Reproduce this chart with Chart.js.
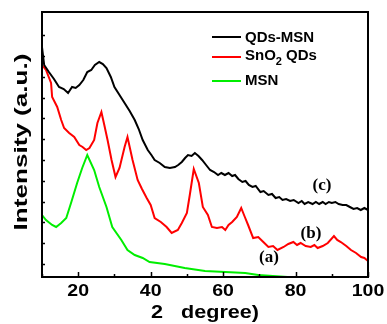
<!DOCTYPE html>
<html>
<head>
<meta charset="utf-8">
<script src="https://cdn.jsdelivr.net/npm/chart.js@4/dist/chart.umd.min.js"></script>
<style>
    html, body { margin: 0; padding: 0; background: #fff; }
</style>
</head>
<body>
<canvas id="xrdChart" width="387" height="324"></canvas>
<script>
// XRD patterns (2 theta in degree, intensity in arbitrary units)
const qdsMsnAngle = [10, 10.6, 11.9, 13.3, 14.7, 16.0, 17.2, 18.3, 19.3, 20.3, 21.4, 22.5, 23.6, 24.6, 25.8, 26.8, 27.8, 29.0, 30.0, 31.4, 32.8, 34.2, 35.6, 36.7, 37.8, 39.2, 40.2, 41.1, 42.5, 43.9, 45.3, 46.7, 47.6, 48.6, 49.5, 50.3, 51.3, 52.2, 53.2, 54.2, 55.3, 56.4, 57.5, 58.6, 59.5, 60.5, 61.5, 62.5, 63.3, 64.2, 65.3, 66.2, 67.1, 68.1, 69.0, 70.3, 71.2, 72.5, 73.5, 74.5, 75.5, 76.4, 77.4, 78.5, 79.5, 80.8, 81.7, 82.5, 83.5, 84.7, 85.6, 86.5, 87.5, 88.3, 89.2, 90.0, 91.0, 91.9, 93.0, 94.0, 95.0, 96.0, 97.0, 98.0, 99.0, 100];
const qdsMsnInt   = [230, 212, 205, 198, 190, 188, 184, 190, 189, 192, 197, 205, 207, 212, 215, 213, 209, 200, 190, 182, 174, 166, 157, 148, 137, 127, 122, 117, 114, 110, 109, 110, 112, 115, 119, 122, 121, 124, 121, 117, 112, 107, 105, 102, 104, 102, 104, 101, 102, 98, 95, 96, 92, 90, 91, 85, 86, 82, 83, 79, 80, 77, 78, 76, 77, 74, 76, 73, 75, 73, 75, 73, 75, 73, 75, 74, 75, 73, 72, 72, 70, 68, 69, 67, 69, 67];

const sno2Angle = [10, 11.1, 12.5, 12.8, 14.2, 15.3, 16.1, 17.5, 18.9, 20.3, 21.2, 22.2, 23.1, 24.4, 25.3, 26.4, 27.2, 28.1, 29.2, 30.3, 31.4, 32.8, 33.6, 35.0, 36.4, 37.6, 38.9, 40.0, 41.1, 42.8, 44.4, 45.8, 47.5, 48.6, 50.0, 50.8, 51.9, 53.3, 54.4, 55.8, 56.9, 58.3, 59.7, 60.6, 61.5, 62.5, 63.8, 65.0, 66.0, 66.9, 68.3, 69.7, 71.1, 72.5, 73.8, 75.0, 76.7, 78.0, 79.4, 80.4, 81.4, 82.8, 84.2, 85.2, 86.1, 87.5, 88.9, 90.6, 91.5, 92.5, 94.0, 95.3, 96.7, 98.1, 99.0, 100];
const sno2Int   = [212, 207, 194, 180, 170, 157, 149, 144, 140, 132, 130, 127, 129, 137, 154, 165, 152, 137, 117, 100, 109, 130, 140, 117, 97, 88, 79, 72, 59, 55, 50, 44, 47, 54, 64, 82, 108, 94, 70, 62, 50, 49, 50, 47, 52, 55, 60, 69, 60, 52, 39, 40, 35, 30, 31, 27, 30, 33, 35, 32, 34, 31, 30, 32, 29, 31, 34, 41, 37, 35, 31, 27, 24, 20, 19, 16];

const msnAngle = [10, 11.1, 12.8, 13.9, 15.3, 16.7, 18.1, 19.7, 21.1, 22.5, 24.4, 25.8, 27.8, 29.4, 31.9, 33.6, 35.6, 37.8, 39.7, 43.9, 49.4, 55.0, 60.6, 66.1, 69.7, 77.8];
const msnInt   = [62, 57, 52, 50, 54, 59, 75, 94, 109, 122, 107, 90, 70, 50, 37, 27, 22, 19, 15, 13, 9, 6, 5, 4, 2, 0];

const xTickValues = [10, 20, 30, 40, 50, 60, 70, 80, 90, 100];
const xTickLabels = ['', '20', '', '40', '', '60', '', '80', '', '100'];
const yTickValues = [13, 33.8, 54.6, 75.4, 96.2, 117, 137.8, 158.6, 179.4, 200.2, 221, 241.8];

const seriesNames = ['QDs-MSN', 'SnO2 QDs', 'MSN'];
const seriesColors = ['#000000', '#ff0000', '#00ee00'];
const curveLabels = ['(a)', '(b)', '(c)'];

const toPoints = (xs, ys) => xs.map((x, i) => ({ x: x, y: ys[i] }));

// inward tick marks, frame, tick labels, titles, legend and curve labels
const decorPlugin = {
    id: 'decor',
    afterDatasetsDraw(chart) {
        const ctx = chart.ctx;
        const area = chart.chartArea;
        const xs = chart.scales.x;
        const ys = chart.scales.y;
        ctx.save();
        ctx.strokeStyle = '#000';
        ctx.lineWidth = 1.5;
        ctx.beginPath();
        xTickValues.forEach(v => {
            const px = Math.round(xs.getPixelForValue(v)) + 0.5;
            const len = v % 20 === 0 ? 5 : 3;
            ctx.moveTo(px, area.bottom);
            ctx.lineTo(px, area.bottom - len);
        });
        yTickValues.forEach(v => {
            const py = Math.round(ys.getPixelForValue(v)) + 0.5;
            ctx.moveTo(area.left, py);
            ctx.lineTo(area.left + 3, py);
        });
        ctx.stroke();

        ctx.lineWidth = 2;
        ctx.strokeRect(area.left, area.top, area.right - area.left, area.bottom - area.top);

        // x tick labels (slightly wide, like the original)
        ctx.fillStyle = '#000';
        ctx.font = 'bold 16px "Liberation Sans", Arial, sans-serif';
        ctx.textAlign = 'center';
        ctx.textBaseline = 'alphabetic';
        xTickValues.forEach((v, i) => {
            if (!xTickLabels[i]) return;
            ctx.save();
            ctx.translate(xs.getPixelForValue(v), 295.5);
            ctx.scale(1.22, 1);
            ctx.fillText(xTickLabels[i], 0, 0);
            ctx.restore();
        });

        // legend
        const rows = [37, 57, 81];
        ctx.textAlign = 'left';
        ctx.font = 'bold 15px "Liberation Sans", Arial, sans-serif';
        rows.forEach((y, i) => {
            ctx.strokeStyle = seriesColors[i];
            ctx.beginPath();
            ctx.moveTo(212, y);
            ctx.lineTo(241, y);
            ctx.stroke();
        });
        ctx.fillText('QDs-MSN', 245, 42);
        ctx.fillText('SnO', 245, 60);
        const w = ctx.measureText('SnO').width;
        ctx.font = 'bold 11px "Liberation Sans", Arial, sans-serif';
        ctx.fillText('2', 245 + w, 65);
        const w2 = ctx.measureText('2').width;
        ctx.font = 'bold 15px "Liberation Sans", Arial, sans-serif';
        ctx.fillText(' QDs', 245 + w + w2, 60);
        ctx.fillText('MSN', 245, 85);

        // curve labels
        ctx.font = 'bold 17px "Liberation Serif", "Times New Roman", serif';
        ctx.textAlign = 'center';
        ctx.textBaseline = 'middle';
        ctx.fillText(curveLabels[0], 269, 258);
        ctx.fillText(curveLabels[1], 311, 234);
        ctx.fillText(curveLabels[2], 322, 186);

        // axis titles
        ctx.textBaseline = 'alphabetic';
        ctx.font = 'bold 18px "Liberation Sans", Arial, sans-serif';
        ctx.save();
        ctx.translate(27, 142);
        ctx.rotate(-Math.PI / 2);
        ctx.scale(1.45, 1);
        ctx.fillText('Intensity (a.u.)', 0, 0);
        ctx.restore();

        ctx.save();
        ctx.textAlign = 'left';
        ctx.translate(151, 318);
        ctx.scale(1.2, 1);
        ctx.fillText('2   degree)', 0, 0);
        ctx.restore();
        ctx.restore();
    }
};

new Chart(document.getElementById('xrdChart'), {
    type: 'line',
    data: {
        datasets: [
            { label: seriesNames[0], data: toPoints(qdsMsnAngle, qdsMsnInt), borderColor: seriesColors[0] },
            { label: seriesNames[1], data: toPoints(sno2Angle, sno2Int), borderColor: seriesColors[1] },
            { label: seriesNames[2], data: toPoints(msnAngle, msnInt), borderColor: seriesColors[2] }
        ]
    },
    options: {
        responsive: false,
        animation: false,
        layout: { padding: { top: 12, right: 19, left: 0, bottom: 0 } },
        elements: {
            point: { radius: 0 },
            line: { borderWidth: 2, tension: 0 }
        },
        plugins: {
            legend: { display: false },
            tooltip: { enabled: false }
        },
        scales: {
            x: {
                type: 'linear',
                min: 10,
                max: 100,
                afterFit: s => { s.height = 47; },
                afterBuildTicks: s => { s.ticks = xTickValues.map(v => ({ value: v })); },
                grid: { display: false, drawTicks: false },
                border: { display: false },
                ticks: { display: false }
            },
            y: {
                min: 0,
                max: 265,
                afterFit: s => { s.width = 42; },
                afterBuildTicks: s => { s.ticks = yTickValues.map(v => ({ value: v })); },
                grid: { display: false, drawTicks: false },
                border: { display: false },
                ticks: { display: false }
            }
        }
    },
    plugins: [decorPlugin]
});
</script>
</body>
</html>
